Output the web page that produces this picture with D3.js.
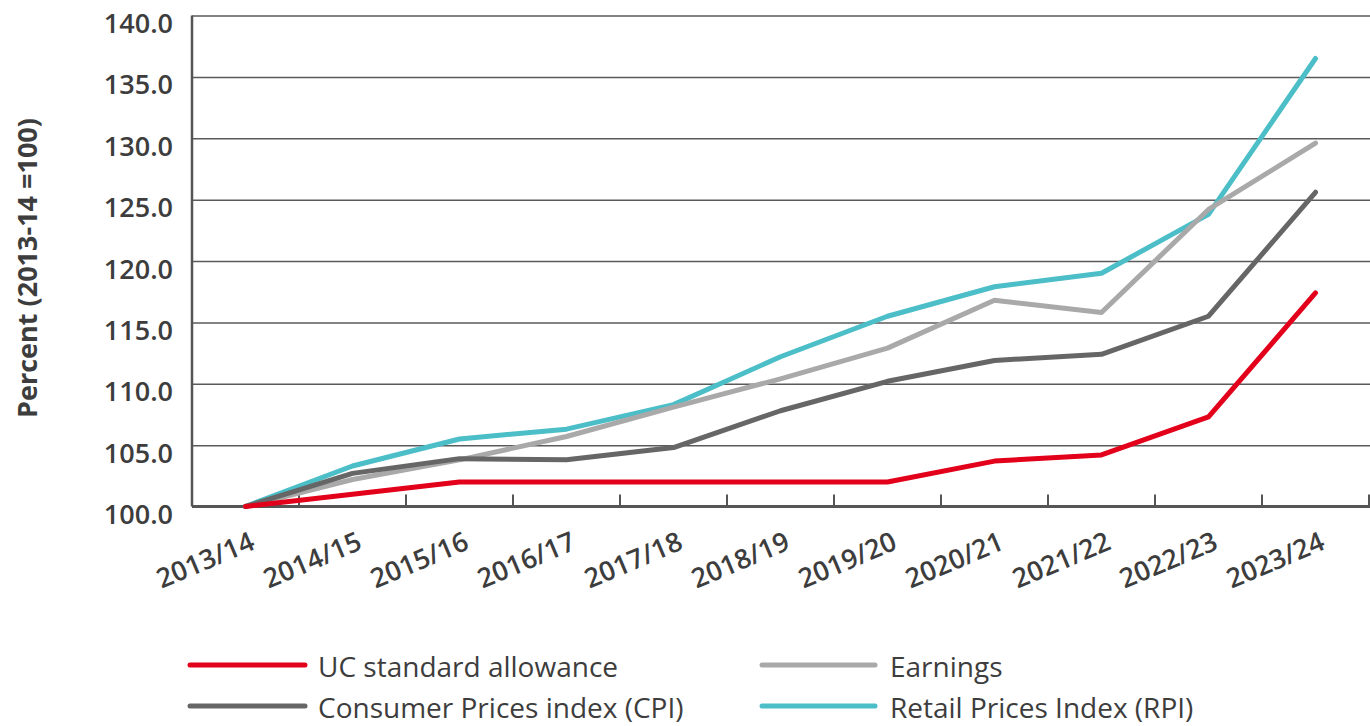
<!DOCTYPE html>
<html>
<head>
<meta charset="utf-8">
<script src="https://cdn.jsdelivr.net/npm/d3@7"></script>
<style>
  body { margin: 0; background: #fff; }
  svg { display: block; }
  svg text { font-family: "Open Sans", "Noto Sans", sans-serif; }
  .grid line { stroke: #5a5a5a; stroke-width: 1.5; }
  .grid .domain { display: none; }
  .y.axis .domain { display: none; }
  .y.axis text { font-size: 27px; font-weight: 600; fill: #3d3d3d; }
  .x.axis text { font-size: 27px; font-weight: 600; fill: #3d3d3d; }
  .legend text { font-size: 28px; font-weight: 500; fill: #3d3d3d; }
</style>
</head>
<body>
<div id="chart"></div>
<script>
var years = ["2013/14", "2014/15", "2015/16", "2016/17", "2017/18", "2018/19",
  "2019/20", "2020/21", "2021/22", "2022/23", "2023/24"];

var ucAllowance = [100, 101.0, 102.0, 102.0, 102.0, 102.0, 102.0, 103.7, 104.2, 107.3, 117.4];
var cpi = [100, 102.7, 103.9, 103.8, 104.8, 107.8, 110.2, 111.9, 112.4, 115.5, 125.6];
var earnings = [100, 102.2, 103.8, 105.7, 108.1, 110.4, 112.9, 116.8, 115.8, 124.2, 129.6];
var rpi = [100, 103.3, 105.5, 106.3, 108.3, 112.2, 115.5, 117.9, 119.0, 123.8, 136.5];

var yTicks = [100, 105, 110, 115, 120, 125, 130, 135, 140];

var series = [
  { name: "Retail Prices Index (RPI)", values: rpi, color: "#4bbec8" },
  { name: "Earnings", values: earnings, color: "#a9a9a9" },
  { name: "Consumer Prices index (CPI)", values: cpi, color: "#666666" },
  { name: "UC standard allowance", values: ucAllowance, color: "#e2001a" }
];

// legend order as in the picture: two columns, two rows
var legendItems = [
  { name: "UC standard allowance", color: "#e2001a", col: 0, row: 0 },
  { name: "Consumer Prices index (CPI)", color: "#666666", col: 0, row: 1 },
  { name: "Earnings", color: "#a9a9a9", col: 1, row: 0 },
  { name: "Retail Prices Index (RPI)", color: "#4bbec8", col: 1, row: 1 }
];

var width = 1370, height = 726;
var margins = { top: 15.5, left: 192, right: 1, bottom: 219.5 };
var chartWidth = width - margins.left - margins.right;
var chartHeight = height - margins.top - margins.bottom;

var svg = d3.select("#chart").append("svg")
  .attr("width", width)
  .attr("height", height);

var chart = svg.append("g")
  .attr("transform", `translate(${margins.left},${margins.top})`);

var xScale = d3.scaleBand().domain(years).range([0, chartWidth]).padding(0);
var yScale = d3.scaleLinear().domain([100, 140]).range([chartHeight, 0]);

// horizontal grid
chart.append("g")
  .attr("class", "grid")
  .call(d3.axisRight(yScale).tickValues(yTicks.slice(1)).tickSize(chartWidth + margins.right).tickFormat(""));

// y labels
chart.append("g")
  .attr("class", "y axis")
  .call(d3.axisLeft(yScale).tickValues(yTicks).tickSize(0).tickPadding(19).tickFormat(d3.format(".1f")))
  .selectAll("text")
  .attr("dy", 17);

// x labels, rotated
var xAxis = chart.append("g")
  .attr("class", "x axis")
  .attr("transform", `translate(0,${chartHeight})`)
  .call(d3.axisBottom(xScale).tickSize(0).tickFormat((d) => d));
xAxis.select(".domain").remove();
xAxis.selectAll("text")
  .attr("text-anchor", "end")
  .attr("dy", null)
  .attr("y", 0)
  .attr("transform", "translate(11,42) rotate(-23)");

// x ticks at band edges
var edges = years.slice(1).map((d) => xScale(d)).concat([chartWidth]);
chart.append("g")
  .selectAll("line")
  .data(edges)
  .enter()
  .append("line")
  .attr("x1", (d) => d)
  .attr("x2", (d) => d)
  .attr("y1", chartHeight)
  .attr("y2", chartHeight - 12)
  .style("stroke", "#555")
  .style("stroke-width", 2);

// axis lines
chart.append("line")
  .attr("x1", 0).attr("x2", chartWidth + margins.right)
  .attr("y1", chartHeight).attr("y2", chartHeight)
  .style("stroke", "#555").style("stroke-width", 3);
chart.append("line")
  .attr("x1", 0).attr("x2", 0)
  .attr("y1", 0).attr("y2", chartHeight)
  .style("stroke", "#555").style("stroke-width", 2.5);

// y title
svg.append("text")
  .attr("transform", "translate(37,268) rotate(-90)")
  .attr("text-anchor", "middle")
  .style("font-size", "27px")
  .style("font-weight", 700)
  .style("fill", "#3d3d3d")
  .text("Percent (2013-14 =100)");

// lines
var line = d3.line()
  .x((d, i) => xScale(years[i]) + xScale.bandwidth() / 2)
  .y((d) => yScale(d));

chart.append("g")
  .selectAll("path")
  .data(series)
  .enter()
  .append("path")
  .attr("d", (d) => line(d.values))
  .style("fill", "none")
  .style("stroke", (d) => d.color)
  .style("stroke-width", 5)
  .style("stroke-linecap", "round")
  .style("stroke-linejoin", "round");

// legend
var legend = svg.append("g")
  .attr("class", "legend")
  .selectAll("g")
  .data(legendItems)
  .enter()
  .append("g")
  .attr("transform", (d) => `translate(${d.col ? 762 : 190},${d.row ? 706 : 665})`);

legend.append("line")
  .attr("x1", 0).attr("x2", (d) => (d.col ? 113 : 115))
  .attr("y1", 0).attr("y2", 0)
  .style("stroke", (d) => d.color)
  .style("stroke-width", 5)
  .style("stroke-linecap", "round");

legend.append("text")
  .attr("x", 128)
  .attr("y", 12)
  .text((d) => d.name);
</script>
</body>
</html>
